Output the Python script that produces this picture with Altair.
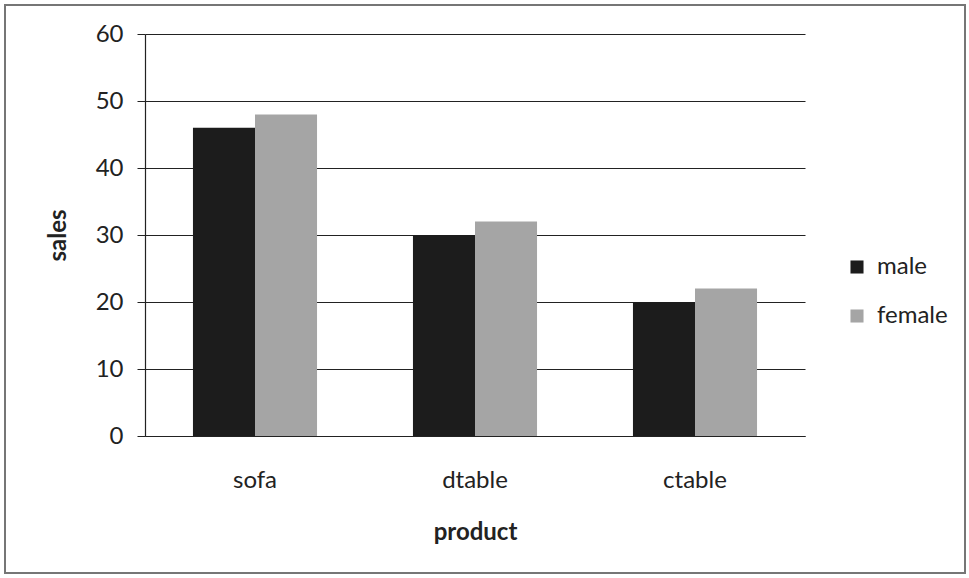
import altair as alt
import pandas as pd

products = ["sofa", "dtable", "ctable"]
male = [46, 30, 20]
female = [48, 32, 22]
series = ["male", "female"]

rows = []
for i, p in enumerate(products):
    rows.append({"product": p, "gender": "male", "sales": male[i]})
    rows.append({"product": p, "gender": "female", "sales": female[i]})
df = pd.DataFrame(rows)

FONT = "Lato"

bars = alt.Chart(df).mark_bar(stroke=None).encode(
    x=alt.X("product:N", sort=products, scale=alt.Scale(paddingInner=0.436, paddingOuter=0.218),
            axis=alt.Axis(title="product", labelAngle=0, ticks=False, labelPadding=32,
                          titlePadding=28, domainColor="#222", domainWidth=1.2)),
    xOffset=alt.XOffset("gender:N", sort=series, scale=alt.Scale(paddingInner=0, paddingOuter=0)),
    y=alt.Y("sales:Q", scale=alt.Scale(domain=[0, 60]),
            axis=alt.Axis(title="sales", values=[0, 10, 20, 30, 40, 50, 60], tickSize=8,
                          labelPadding=14, titlePadding=25, grid=True, gridColor="#222",
                          gridWidth=1.2, domainColor="#222", domainWidth=1.2, tickColor="#222")),
    color=alt.Color("gender:N", sort=series,
                    scale=alt.Scale(domain=series, range=["#1c1c1c", "#a5a5a5"]),
                    legend=alt.Legend(title=None, orient="none", legendX=700, legendY=221,
                                      symbolType="square", symbolSize=170, rowPadding=25,
                                      labelFontSize=24, labelFont=FONT, labelColor="#222",
                                      labelOffset=8, symbolStrokeWidth=0)),
)

frame = alt.Chart(df).mark_rect(fill=None, stroke="#777", strokeWidth=1.5, clip=False).encode(
    x=alt.value(-140), x2=alt.value(820), y=alt.value(-29), y2=alt.value(539)
)

chart = alt.layer(frame, bars).properties(
    width=660, height=402,
    autosize=alt.AutoSizeParams(type="none"),
    padding={"left": 145, "top": 34, "right": 164, "bottom": 142},
).configure_view(stroke=None).configure_axis(
    labelFont=FONT, titleFont=FONT, labelFontSize=24, titleFontSize=24,
    labelColor="#222", titleColor="#222", titleFontWeight="bold", gridOpacity=1
).configure_axisX(grid=False)

chart.save("out.html", embed_options={"renderer": "svg", "actions": False})
